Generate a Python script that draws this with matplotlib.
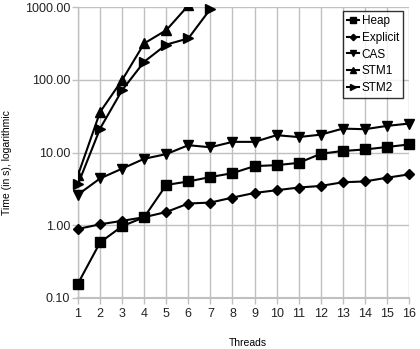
import matplotlib
matplotlib.use("Agg")
import matplotlib.pyplot as plt
from matplotlib.ticker import FixedLocator, FixedFormatter, NullLocator

plt.rcParams['font.family'] = ['Liberation Sans', 'DejaVu Sans']

threads = list(range(1, 17))

heap = [0.158, 0.58, 0.97, 1.29, 3.58, 4.0, 4.6, 5.2, 6.5, 6.7, 7.2, 9.6,
        10.5, 11.0, 11.9, 12.9]
explicit = [0.89, 1.03, 1.15, 1.29, 1.52, 1.99, 2.05, 2.4, 2.78, 3.03, 3.3,
            3.47, 3.9, 4.0, 4.5, 5.0]
cas = [2.64, 4.4, 6.0, 8.2, 9.5, 12.6, 11.8, 14.0, 14.0, 17.3, 16.3, 17.6,
       21.3, 20.9, 23.2, 25.0]
stm1_threads = [1, 2, 3, 4, 5, 6]
stm1 = [4.9, 36, 99, 316, 480, 1050]
stm2_threads = [1, 2, 3, 4, 5, 6, 7]
stm2 = [3.66, 21.3, 72, 177, 304, 370, 940]

# name, x, y, marker, size, clip (STM1 runs off the top of the chart)
series = [
    ("Heap", threads, heap, "s", 6.5, False),
    ("Explicit", threads, explicit, "D", 5, False),
    ("CAS", threads, cas, "v", 7, False),
    ("STM1", stm1_threads, stm1, "^", 7, True),
    ("STM2", stm2_threads, stm2, ">", 7, False),
]

y_ticks = [0.1, 1, 10, 100, 1000]
y_labels = ["0.10", "1.00", "10.00", "100.00", "1000.00"]

fig = plt.figure(figsize=(4.2, 3.49), dpi=100)
ax = fig.add_axes([78 / 420, 1 - 298 / 349, (409 - 78) / 420, (298 - 7) / 349])

grid_col = "#c0c0c0"
for name, xs, ys, mk, ms, clip in series:
    ax.plot(xs, ys, color="black", lw=1.5, marker=mk, markersize=ms,
            label=name, clip_on=clip, zorder=3)

ax.set_yscale("log")
ax.set_ylim(0.1, 1000)
ax.set_xlim(1, 16)
ax.yaxis.set_major_locator(FixedLocator(y_ticks))
ax.yaxis.set_major_formatter(FixedFormatter(y_labels))
ax.yaxis.set_minor_locator(NullLocator())
ax.set_xticks(threads)

ax.grid(True, color=grid_col, lw=1)
ax.set_axisbelow(True)
for side in ["top", "right"]:
    ax.spines[side].set_visible(False)
ax.spines["left"].set_color(grid_col)
ax.spines["left"].set_linewidth(1)
ax.spines["bottom"].set_color(grid_col)
ax.spines["bottom"].set_linewidth(1.5)
ax.tick_params(axis="both", colors=grid_col, labelcolor="#222222",
               labelsize=9, length=4, width=1)
ax.tick_params(axis="y", pad=1.5)
ax.tick_params(axis="x", pad=3)

ax.set_xlabel("Threads", fontsize=7.5)
ax.xaxis.set_label_coords((248 - 78) / 331, -(338 - 298) / 291)
ax.set_ylabel("Time (in s), logarithmic", fontsize=7.5)
ax.yaxis.set_label_coords(-(78 - 12) / 331, (298 - 163) / 291)

leg = ax.legend(loc="upper right", bbox_to_anchor=(1.0 - 6 / 331, 1.0 - 4 / 291),
                fontsize=8.5, frameon=True, fancybox=False, handlelength=1.0,
                handletextpad=0.2, borderpad=0.35, labelspacing=0.4,
                markerscale=0.65, borderaxespad=0)
leg.get_frame().set_edgecolor("black")
leg.get_frame().set_linewidth(1)

fig.savefig("out.png", dpi=100)
